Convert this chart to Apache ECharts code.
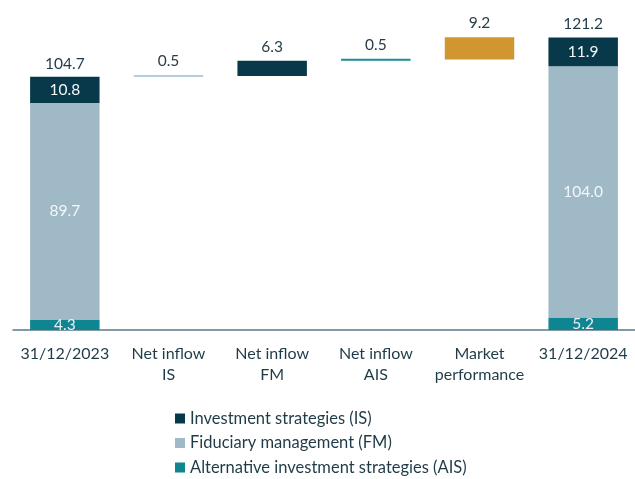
<!DOCTYPE html>
<html>
<head>
<meta charset="UTF-8">
<title>AuM bridge</title>
<script src="https://cdn.jsdelivr.net/npm/echarts@6.0.0/dist/echarts.min.js"></script>
<style>
  html, body { margin: 0; padding: 0; background: #fff; }
  #chart { width: 635px; height: 479px; }
</style>
</head>
<body>
<div id="chart"></div>
<script>
// data
var categories = ['31/12/2023', 'Net inflow\nIS', 'Net inflow\nFM', 'Net inflow\nAIS', 'Market\nperformance', '31/12/2024'];
var baseValues = [0, 104.7, 105.2, 111.5, 112.0, 0];
var aisValues = [4.3, '-', '-', '-', '-', 5.2];
var fmValues = [89.7, '-', '-', '-', '-', 104.0];
var isValues = [10.8, '-', '-', '-', '-', 11.9];
var changeValues = ['-', 0.5, 6.3, 0.5, 9.2, '-'];
var totalValues = [104.7, '-', '-', '-', '-', 121.2];

// colours
var cIS = '#07394a';
var cFM = '#9fb9c6';
var cAIS = '#0f8591';
var changeColors = ['', '#b4cde0', '#07394a', '#1a8c98', '#d1962f', ''];
var textDark = '#1f3b48';

var chart = echarts.init(document.getElementById('chart'));

function oneDecimal(p) { return Number(p.value).toFixed(1); }

var changeData = changeValues.map(function (v, i) {
    return { value: v, itemStyle: { color: changeColors[i] } };
});

var option = {
    animation: false,
    textStyle: { fontFamily: 'Lato' },
    grid: { left: 13, width: 627, top: 16, bottom: 149 },
    legend: {
        orient: 'vertical',
        left: 170,
        top: 405,
        height: 120,
        itemWidth: 10,
        itemHeight: 10,
        itemGap: 7.5,
        icon: 'rect',
        textStyle: { fontSize: 16.5, color: textDark, fontFamily: 'Lato' },
        data: ['Investment strategies (IS)', 'Fiduciary management (FM)', 'Alternative investment strategies (AIS)']
    },
    xAxis: {
        type: 'category',
        data: categories,
        axisLine: { lineStyle: { color: '#5b7a88', width: 1.5 } },
        axisTick: { show: false },
        axisLabel: { fontSize: 16, color: textDark, lineHeight: 21, margin: 13, interval: 0 }
    },
    yAxis: {
        type: 'value',
        min: 0,
        max: 130,
        show: false,
        splitLine: { show: false }
    },
    series: [
        {
            name: 'base',
            type: 'bar',
            stack: 'total',
            barWidth: '67%',
            barGap: '-100%',
            itemStyle: { color: 'transparent' },
            data: baseValues
        },
        {
            name: 'Alternative investment strategies (AIS)',
            type: 'bar',
            stack: 'total',
            itemStyle: { color: cAIS },
            label: { show: true, position: 'inside', color: '#e9eff2', fontSize: 15.5, formatter: oneDecimal },
            data: aisValues
        },
        {
            name: 'Fiduciary management (FM)',
            type: 'bar',
            stack: 'total',
            itemStyle: { color: cFM },
            label: { show: true, position: 'inside', color: '#f4f7f8', fontSize: 15.5, formatter: oneDecimal },
            data: fmValues
        },
        {
            name: 'Investment strategies (IS)',
            type: 'bar',
            stack: 'total',
            itemStyle: { color: cIS },
            label: { show: true, position: 'inside', color: '#f4f7f8', fontSize: 15.5, formatter: oneDecimal },
            data: isValues
        },
        {
            name: 'change',
            type: 'bar',
            stack: 'total',
            barMinHeight: 2,
            label: { show: true, position: 'top', distance: 6, color: '#2a3d47', fontSize: 15.5, formatter: oneDecimal },
            data: changeData
        },
        {
            name: 'total',
            type: 'bar',
            barWidth: '67%',
            barGap: '-100%',
            itemStyle: { color: 'transparent' },
            label: { show: true, position: 'top', distance: 5, color: textDark, fontSize: 15.5, formatter: oneDecimal },
            data: totalValues
        }
    ]
};

chart.setOption(option);
</script>
</body>
</html>
